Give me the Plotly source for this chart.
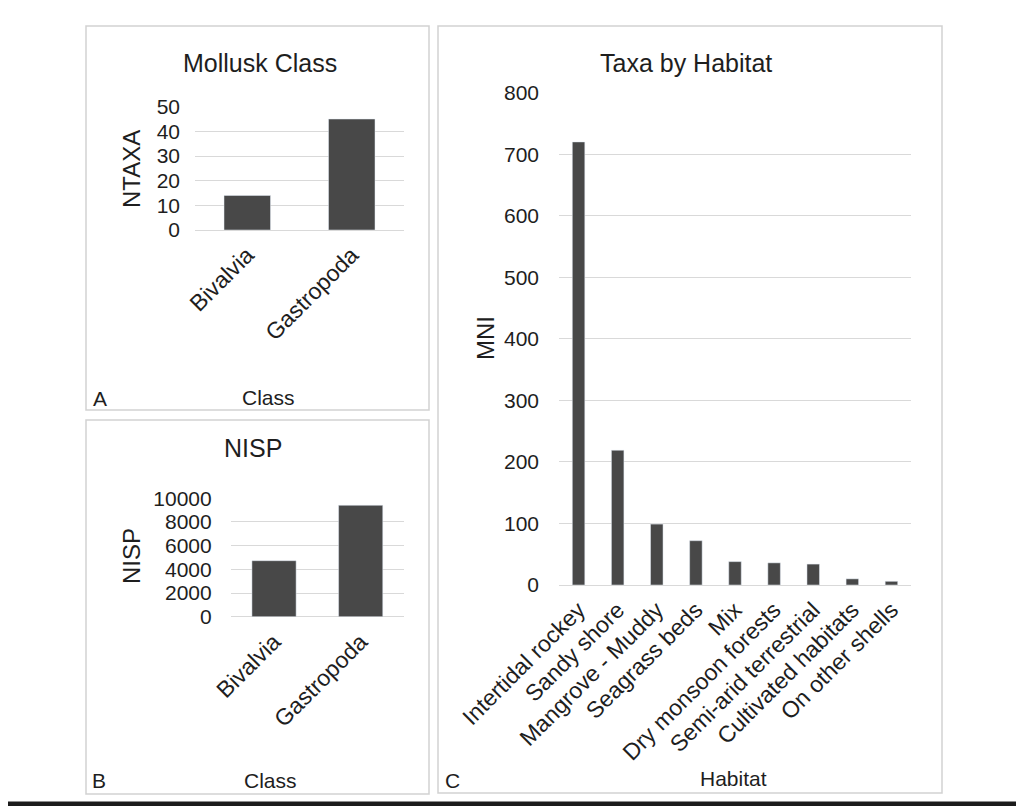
import plotly.graph_objects as go

# page body has an 8px margin; the figure is sized to fill the rest of the window
OFF = 8
W, H = 1024 - OFF, 806 - OFF

class_cats = ["Bivalvia", "Gastropoda"]
ntaxa_vals = [14, 45]
nisp_vals = [4730, 9410]

habitat_cats = ["Intertidal rockey", "Sandy shore", "Mangrove - Muddy", "Seagrass beds", "Mix",
                "Dry monsoon forests", "Semi-arid terrestrial", "Cultivated habitats", "On other shells"]
mni_vals = [720, 219, 99, 72, 38, 36, 34, 10, 6]

ntaxa_ticks = [0, 10, 20, 30, 40, 50]
nisp_ticks = [0, 2000, 4000, 6000, 8000, 10000]
mni_ticks = [0, 100, 200, 300, 400, 500, 600, 700, 800]

FONT = "Liberation Sans, Arial, sans-serif"
TXT = "#1e1e1e"
BAR = "#484848"
GRID = "#d9d9d9"
BORDER = "#d2d2d2"

def px(x):
    return (x - OFF) / W

def py(y):
    return 1 - (y - OFF) / H

fig = go.Figure()
fig.add_trace(go.Bar(x=class_cats, y=ntaxa_vals, marker_color=BAR, width=0.445,
                     xaxis="x", yaxis="y", showlegend=False))
fig.add_trace(go.Bar(x=class_cats, y=nisp_vals, marker_color=BAR, width=0.51,
                     xaxis="x2", yaxis="y2", showlegend=False))
fig.add_trace(go.Bar(x=habitat_cats, y=mni_vals, marker_color=BAR, width=0.32,
                     xaxis="x3", yaxis="y3", showlegend=False))

def yax(dom, rng, ticks, anchor, standoff):
    return dict(domain=dom, range=rng, tickvals=ticks, ticktext=[str(t) for t in ticks],
                anchor=anchor, automargin=False,
                showgrid=True, gridcolor=GRID, gridwidth=1,
                zeroline=True, zerolinecolor=GRID, zerolinewidth=1,
                showline=False, ticks="", ticklabelstandoff=standoff,
                tickfont=dict(family=FONT, size=21, color=TXT), fixedrange=True)

def xax(dom, anchor, size):
    return dict(domain=dom, anchor=anchor, automargin=False,
                showline=False, showgrid=False, zeroline=False,
                ticks="", tickangle=-45, ticklabelstandoff=6,
                tickfont=dict(family=FONT, size=size, color=TXT), fixedrange=True)

fig.update_layout(
    width=W, height=H,
    margin=dict(l=0, r=0, t=0, b=0, pad=0, autoexpand=False),
    paper_bgcolor="white", plot_bgcolor="white",
    font=dict(family=FONT, color=TXT),
    xaxis=xax([px(195), px(404)], "y", 23),
    yaxis=yax([py(230), py(106.7)], [0, 50], ntaxa_ticks, "x", 14),
    xaxis2=xax([px(230.7), px(404)], "y2", 23),
    yaxis2=yax([py(616.7), py(498.3)], [0, 10000], nisp_ticks, "x2", 18),
    xaxis3=xax([px(559), px(911)], "y3", 23),
    yaxis3=yax([py(585), py(92.7)], [0, 800], mni_ticks, "x3", 19),
)

shapes = []
for (x0, y0, x1, y1) in [(86, 26, 429, 410), (86, 420, 429, 794), (438, 26, 942, 793)]:
    shapes.append(dict(type="rect", xref="paper", yref="paper",
                       x0=px(x0), x1=px(x1), y0=py(y1), y1=py(y0),
                       line=dict(color=BORDER, width=1.5), fillcolor="rgba(0,0,0,0)", layer="below"))
shapes.append(dict(type="rect", xref="paper", yref="paper", x0=0, x1=1, y0=0, y1=py(801.5),
                   line=dict(width=0), fillcolor="#1c1c1c"))
fig.update_layout(shapes=shapes)

def ann(text, x, y, size, angle=0, xanchor="center"):
    fig.add_annotation(text=text, x=px(x), y=py(y), xref="paper", yref="paper",
                       showarrow=False, xanchor=xanchor, yanchor="middle", textangle=angle,
                       font=dict(family=FONT, size=size, color=TXT))

ann("Mollusk Class", 260, 63, 25)
ann("NTAXA", 132, 169, 24, -90)
ann("Class", 268, 397, 21)
ann("A", 91, 398, 21, xanchor="left")

ann("NISP", 253, 448, 25)
ann("NISP", 131, 556, 24, -90)
ann("Class", 270, 780, 21)
ann("B", 90, 780, 21, xanchor="left")

ann("Taxa by Habitat", 686, 63, 25)
ann("MNI", 486, 338, 24, -90)
ann("Habitat", 733, 778, 21)
ann("C", 443, 780, 21, xanchor="left")

fig.write_html("out.html")
